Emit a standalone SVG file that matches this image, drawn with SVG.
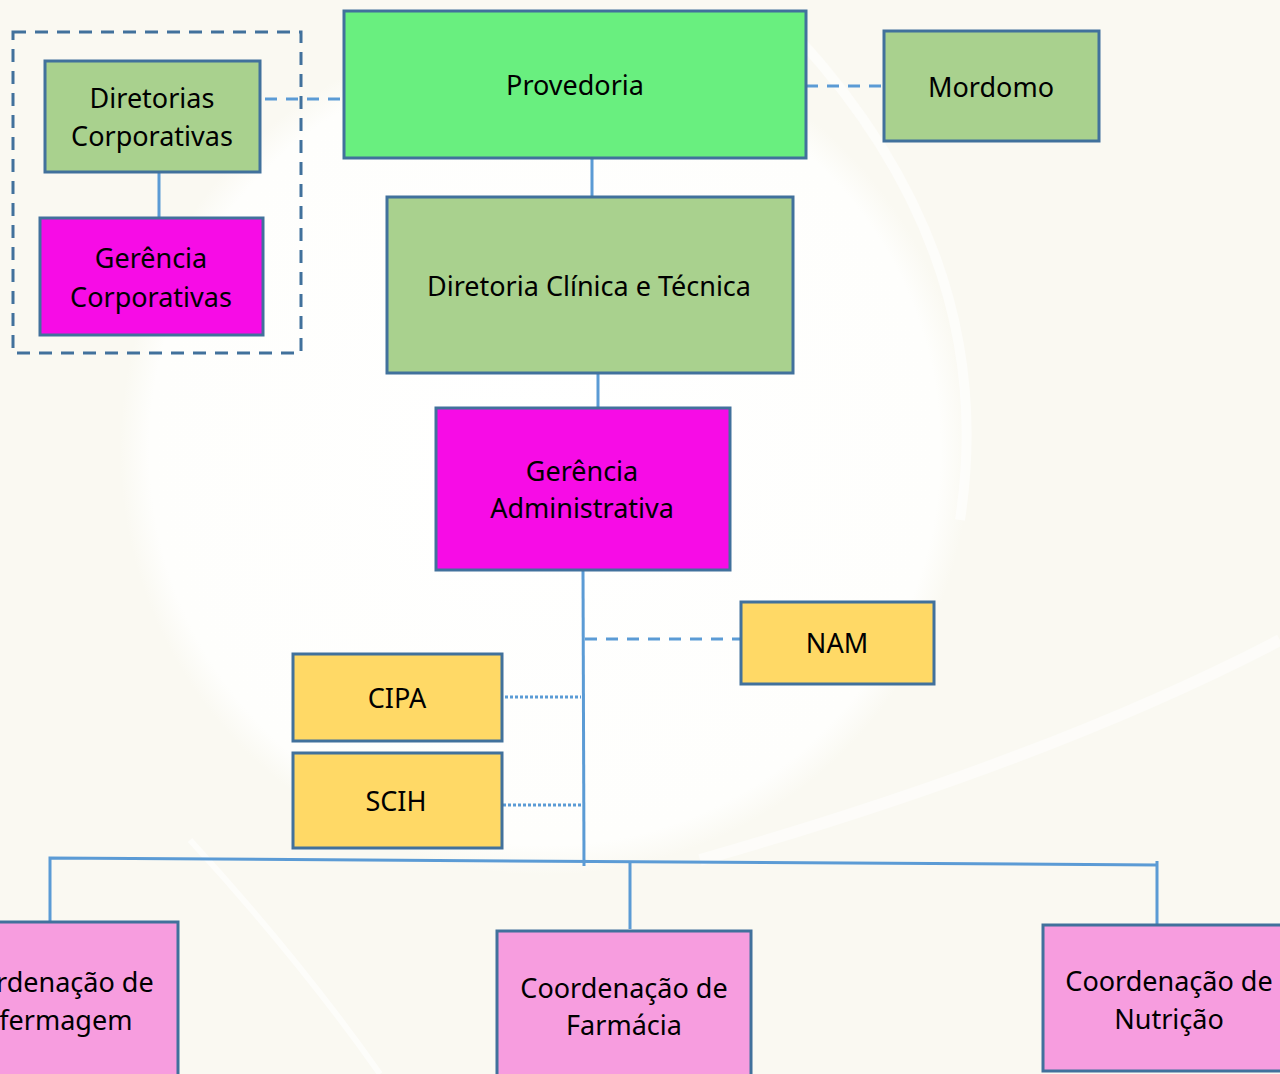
<svg xmlns="http://www.w3.org/2000/svg" width="1280" height="1074" viewBox="0 0 1280 1074">
<style>
.box{stroke:#41719C;stroke-width:3}
.green{fill:#A9D18E}
.prov{fill:#69EF7F}
.mag{fill:#F70CE6}
.yel{fill:#FFD966}
.pink{fill:#F79DDF}
.t{font-family:"Noto Sans","Open Sans",sans-serif;font-size:27px;fill:#000;text-anchor:middle}
.ln{stroke:#5B9BD5;stroke-width:3;fill:none}
.dash{stroke:#5B9BD5;stroke-width:3;stroke-dasharray:12 9;fill:none}
.dot{stroke:#5B9BD5;stroke-width:3;stroke-dasharray:3 2;fill:none}
</style>
<defs>
<radialGradient id="glow" cx="0.5" cy="0.5" r="0.5">
<stop offset="0" stop-color="#FFFFFF"/>
<stop offset="0.93" stop-color="#FEFEFC"/>
<stop offset="1" stop-color="#FAF9F2"/>
</radialGradient>
</defs>
<rect x="0" y="0" width="1280" height="1074" fill="#FAF9F2"/>
<circle cx="545" cy="450" r="425" fill="url(#glow)"/>
<path d="M800 40 Q1000 260 960 520" stroke="#FFFFFF" stroke-width="10" fill="none" opacity="0.6"/>
<path d="M190 840 Q300 960 380 1074" stroke="#FFFFFF" stroke-width="6" fill="none" opacity="0.6"/>
<path d="M700 860 Q1050 760 1280 640" stroke="#FFFFFF" stroke-width="12" fill="none" opacity="0.5"/>

<g id="connectors">
<line class="dash" x1="265" y1="99" x2="345" y2="99"/>
<line class="ln" x1="159" y1="172" x2="159" y2="218"/>
<line class="dash" x1="806" y1="86" x2="886" y2="86"/>
<line class="ln" x1="592" y1="158" x2="592" y2="197"/>
<line class="ln" x1="598" y1="373" x2="598" y2="408"/>
<line class="ln" x1="583" y1="570" x2="584" y2="866"/>
<line class="dash" x1="585" y1="639" x2="741" y2="639"/>
<line class="dot" x1="505" y1="697" x2="581" y2="697"/>
<line class="dot" x1="503" y1="805" x2="582" y2="805"/>
<polyline class="ln" points="50,922 50,858 1157,865"/>
<line class="ln" x1="1157" y1="861" x2="1157" y2="925"/>
<line class="ln" x1="630" y1="862" x2="630" y2="929"/>
</g>

<g id="grupo-corporativo">
<rect x="13" y="32" width="288" height="321" fill="none" stroke="#41719C" stroke-width="3" stroke-dasharray="13 9"/>
</g>
<g id="diretorias-corporativas">
<rect class="box green" x="45" y="61" width="215" height="111"/>
<text class="t" x="152" y="108">Diretorias</text>
<text class="t" x="152" y="146">Corporativas</text>
</g>
<g id="gerencia-corporativas">
<rect class="box mag" x="40" y="218" width="223" height="117"/>
<text class="t" x="151" y="268">Gerência</text>
<text class="t" x="151" y="307">Corporativas</text>
</g>
<g id="provedoria">
<rect class="box prov" x="344" y="11" width="462" height="147"/>
<text class="t" x="575" y="95">Provedoria</text>
</g>
<g id="mordomo">
<rect class="box green" x="884" y="31" width="215" height="110"/>
<text class="t" x="991" y="97">Mordomo</text>
</g>
<g id="diretoria-clinica">
<rect class="box green" x="387" y="197" width="406" height="176"/>
<text class="t" x="589" y="296">Diretoria Clínica e Técnica</text>
</g>
<g id="gerencia-administrativa">
<rect class="box mag" x="436" y="408" width="294" height="162"/>
<text class="t" x="582" y="481">Gerência</text>
<text class="t" x="582" y="518">Administrativa</text>
</g>
<g id="nam">
<rect class="box yel" x="741" y="602" width="193" height="82"/>
<text class="t" x="837" y="653">NAM</text>
</g>
<g id="cipa">
<rect class="box yel" x="293" y="654" width="209" height="87"/>
<text class="t" x="397" y="708">CIPA</text>
</g>
<g id="scih">
<rect class="box yel" x="293" y="753" width="209" height="95"/>
<text class="t" x="396" y="811">SCIH</text>
</g>
<g id="coord-enfermagem">
<rect class="box pink" x="-78" y="922" width="256" height="160"/>
<text class="t" x="50" y="992">Coordenação de</text>
<text class="t" x="50" y="1030">Enfermagem</text>
</g>
<g id="coord-farmacia">
<rect class="box pink" x="497" y="931" width="254" height="160"/>
<text class="t" x="624" y="998">Coordenação de</text>
<text class="t" x="624" y="1035">Farmácia</text>
</g>
<g id="coord-nutricao">
<rect class="box pink" x="1043" y="925" width="260" height="146"/>
<text class="t" x="1169" y="991">Coordenação de</text>
<text class="t" x="1169" y="1029">Nutrição</text>
</g>
</svg>
